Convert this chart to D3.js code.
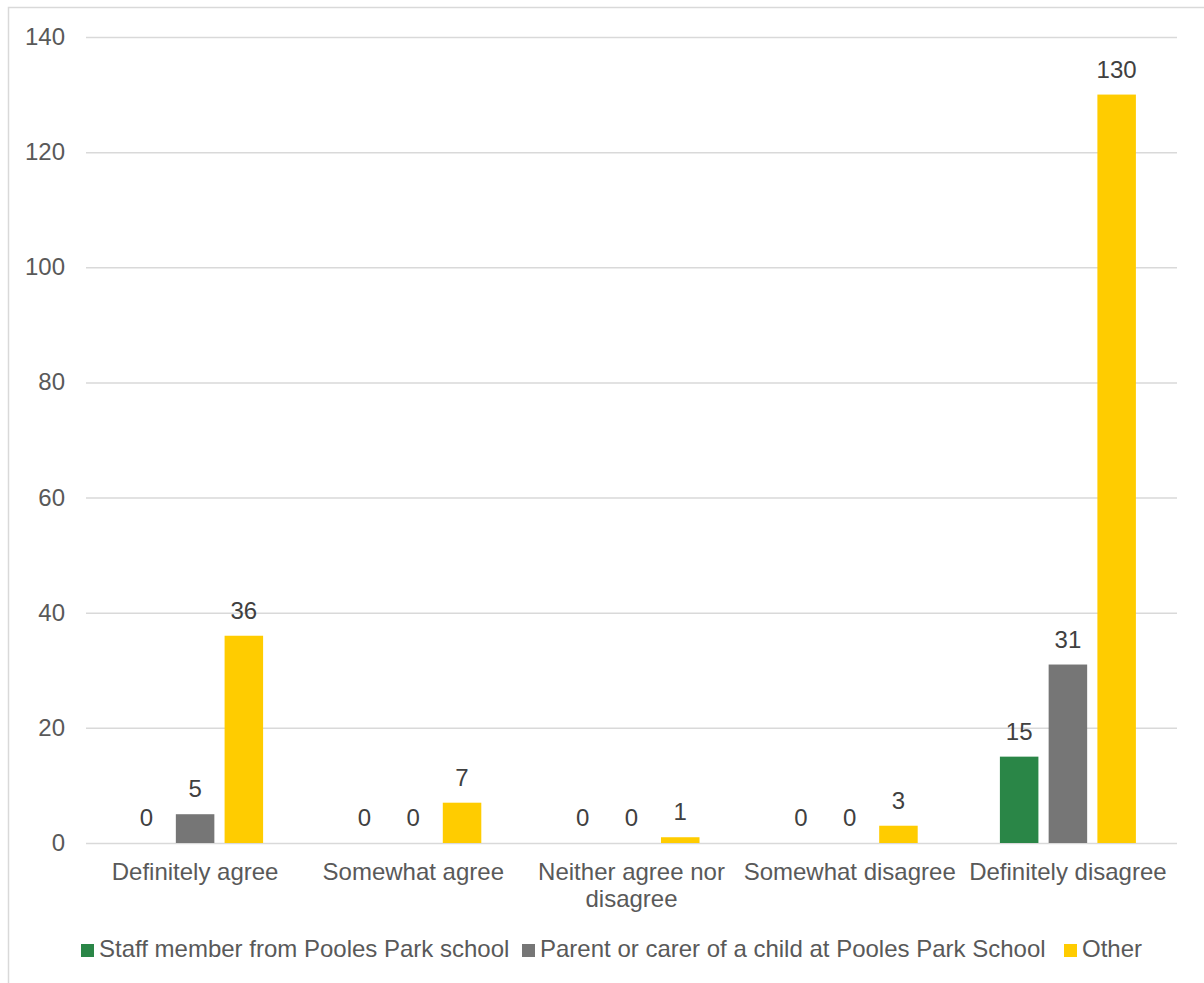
<!DOCTYPE html>
<html><head><meta charset="utf-8">
<script src="https://cdn.jsdelivr.net/npm/d3@7"></script>
<style>body{margin:0;background:#fff;font-family:"Liberation Sans",Arial,sans-serif;}</style>
</head><body><svg id="c" width="1204" height="983"></svg>
<script>
const categories = [["Definitely agree"],["Somewhat agree"],["Neither agree nor","disagree"],["Somewhat disagree"],["Definitely disagree"]];
const seriesNames = ["Staff member from Pooles Park school","Parent or carer of a child at Pooles Park School","Other"];
const staff = [0,0,0,0,15];
const parent = [5,0,0,0,31];
const other = [36,7,1,3,130];
const yTicks = [0,20,40,60,80,100,120,140];
const colors = ["#2A8647","#767676","#FFCC00"];

const svg = d3.select("#c");
svg.append("rect").attr("x",8.5).attr("y",7.5).attr("width",1300).attr("height",1100)
  .attr("fill","none").attr("stroke","#D9D9D9").attr("stroke-width",1.5);

const L=86, R=1177, T=37, B=843;
const FS=24;
const x0 = d3.scaleBand().domain(d3.range(categories.length)).range([L,R]).padding(0);
const x1 = d3.scaleBand().domain(d3.range(3)).range([-68,68]).paddingInner(0.21).paddingOuter(0);
const y = d3.scaleLinear().domain([0,140]).range([B,T]);

const g = svg.append("g");
g.selectAll("line.grid").data(yTicks).join("line")
  .attr("x1",L).attr("x2",R).attr("y1",d=>y(d)+0.5).attr("y2",d=>y(d)+0.5)
  .attr("stroke","#D9D9D9").attr("stroke-width",1.5);
g.selectAll("text.yt").data(yTicks).join("text")
  .attr("x",65).attr("y",d=>y(d)+8).attr("text-anchor","end")
  .attr("font-size",FS).attr("fill","#595959").text(d=>d);

const series = [staff,parent,other];
series.forEach((vals,si)=>{
  vals.forEach((v,ci)=>{
    const cx = x0(ci)+x0.bandwidth()/2;
    const bx = cx + x1(si);
    if(v>0){
      g.append("rect").attr("x",bx).attr("width",x1.bandwidth())
        .attr("y",y(v)).attr("height",B-y(v)).attr("fill",colors[si]);
    }
    g.append("text").attr("x",bx+x1.bandwidth()/2).attr("y",y(v)-17)
      .attr("text-anchor","middle").attr("font-size",FS).attr("fill","#404040").text(v);
  });
});

categories.forEach((lines,ci)=>{
  const cx = x0(ci)+x0.bandwidth()/2;
  const t = g.append("text").attr("text-anchor","middle").attr("font-size",FS).attr("fill","#595959");
  lines.forEach((ln,li)=>{
    t.append("tspan").attr("x",cx).attr("y",880+li*27).text(ln);
  });
});

const legX = [81,522,1064];
seriesNames.forEach((n,i)=>{
  g.append("rect").attr("x",legX[i]).attr("y",944).attr("width",13).attr("height",13).attr("fill",colors[i]);
  g.append("text").attr("x",legX[i]+18).attr("y",957).attr("font-size",FS).attr("fill","#595959").text(n);
});
</script></body></html>
